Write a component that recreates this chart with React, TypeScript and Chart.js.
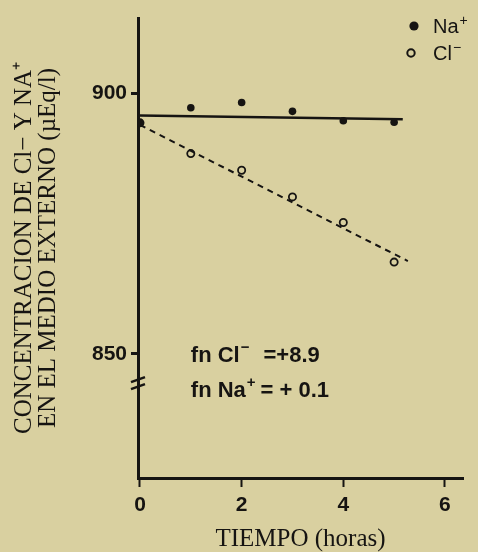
import { useEffect, useRef } from "react";
import { Chart, registerables } from "chart.js";

Chart.register(...registerables);

// ---- data ----
const hours = [0, 1, 2, 3, 4, 5];
const naValues = [894.3, 897.2, 898.2, 896.5, 894.7, 894.4];
const clValues = [894.3, 888.4, 885.2, 880.1, 875.2, 867.6];
const naFitX = [0, 5.17];
const naFitY = [895.7, 895.0];
const clFitX = [0, 5.27];
const clFitY = [893.9, 867.8];
const xTickValues = [0, 2, 4, 6];
const yTickValues = [850, 900];
const xRange = [-0.039, 6.355];
const yRange = [826.2, 914.4];
const breakValue = 844.4;
const yTitleLines = ["CONCENTRACION DE Cl\u2212 Y NA\u207A", "EN EL MEDIO EXTERNO (\u00B5Eq/l)"];
const xTitleText = "TIEMPO (horas)";
const legendBase = ["Na", "Cl"];
const legendSup = ["+", "\u2212"];
const noteBase = ["fn Cl", "fn Na"];
const noteSup = ["\u2212", "+"];
const noteRest = ["=+8.9", "= + 0.1"];
const notePosX = [1.0, 1.0];
const notePosY = [848.5, 841.8];

const INK = "#161412";
const PAPER = "#d9d0a0";
const SANS = "'Liberation Sans', Arial, sans-serif";
const SERIF = "'Liberation Serif', 'Times New Roman', serif";

function drawSup(
  ctx: CanvasRenderingContext2D,
  base: string,
  sup: string,
  x: number,
  y: number,
  size: number,
  weight: string
) {
  ctx.font = `${weight} ${size}px ${SANS}`;
  ctx.fillText(base, x, y);
  const w = ctx.measureText(base).width;
  ctx.font = `${weight} ${Math.round(size * 0.7)}px ${SANS}`;
  ctx.fillText(sup, x + w + 1, y - size * 0.42);
  return x + w + 1 + ctx.measureText(sup).width;
}

const decor = {
  id: "decor",
  afterDraw(chart: any) {
    const ctx: CanvasRenderingContext2D = chart.ctx;
    const xs = chart.scales.x;
    const ys = chart.scales.y;
    ctx.save();
    ctx.fillStyle = INK;
    ctx.strokeStyle = INK;

    // axis break mark
    const bx = xs.left;
    const by = ys.getPixelForValue(breakValue);
    ctx.lineWidth = 2.5;
    [-3.5, 3.5].forEach((d) => {
      ctx.beginPath();
      ctx.moveTo(bx - 7, by + d + 2.5);
      ctx.lineTo(bx + 7, by + d - 2.5);
      ctx.stroke();
    });

    // annotations
    ctx.textBaseline = "alphabetic";
    ctx.textAlign = "left";
    noteBase.forEach((b, i) => {
      const px = xs.getPixelForValue(notePosX[i]);
      const py = ys.getPixelForValue(notePosY[i]);
      const end = drawSup(ctx, b, noteSup[i], px, py, 22, "bold");
      ctx.font = `bold 22px ${SANS}`;
      ctx.fillText(noteRest[i], end + (i === 0 ? 14 : 5), py);
    });

    // legend
    const right = chart.chartArea.right;
    const rows = [26, 53];
    legendBase.forEach((b, i) => {
      const cy = rows[i];
      ctx.beginPath();
      if (i === 0) {
        ctx.arc(right - 49, cy, 4.6, 0, Math.PI * 2);
        ctx.fill();
      } else {
        ctx.lineWidth = 2;
        ctx.arc(right - 52, cy, 3.7, 0, Math.PI * 2);
        ctx.stroke();
      }
      drawSup(ctx, b, legendSup[i], right - 30, cy + 7, 20, "normal");
    });
    ctx.restore();
  },
};

export default function App() {
  const ref = useRef<HTMLCanvasElement | null>(null);

  useEffect(() => {
    if (!ref.current) return;
    const naPts = hours.map((h, i) => ({ x: h, y: naValues[i] }));
    const clPts = hours.map((h, i) => ({ x: h, y: clValues[i] }));
    const naFit = naFitX.map((x, i) => ({ x, y: naFitY[i] }));
    const clFit = clFitX.map((x, i) => ({ x, y: clFitY[i] }));

    const chart = new Chart(ref.current, {
      type: "scatter",
      data: {
        datasets: [
          {
            label: "Na fit",
            data: naFit,
            showLine: true,
            borderColor: INK,
            borderWidth: 2.5,
            pointRadius: 0,
          },
          {
            label: "Cl fit",
            data: clFit,
            showLine: true,
            borderColor: INK,
            borderWidth: 2,
            borderDash: [6, 5],
            pointRadius: 0,
          },
          {
            label: "Na+",
            data: naPts,
            pointRadius: 3.8,
            pointBackgroundColor: INK,
            pointBorderColor: INK,
            pointBorderWidth: 0,
          },
          {
            label: "Cl-",
            data: clPts,
            pointRadius: 3.6,
            pointBackgroundColor: PAPER,
            pointBorderColor: INK,
            pointBorderWidth: 1.8,
          },
        ],
      },
      options: {
        animation: false,
        responsive: true,
        maintainAspectRatio: false,
        layout: { padding: { left: 0, right: 15, top: 18, bottom: 0 } },
        plugins: { legend: { display: false }, tooltip: { enabled: false } },
        scales: {
          x: {
            type: "linear",
            min: xRange[0],
            max: xRange[1],
            afterBuildTicks: (s: any) => {
              s.ticks = xTickValues.map((v) => ({ value: v }));
            },
            afterFit: (s: any) => {
              s.height = 74;
            },
            grid: {
              drawOnChartArea: false,
              drawTicks: true,
              tickLength: 9,
              tickWidth: 2,
              tickColor: INK,
            },
            border: { display: true, color: INK, width: 3 },
            ticks: {
              color: INK,
              padding: 6,
              font: { family: SANS, size: 21, weight: "bold" },
              callback: (v: any) => String(v),
            },
            title: {
              display: true,
              text: xTitleText,
              color: INK,
              font: { family: SERIF, size: 25, lineHeight: 1 },
              padding: { top: 0, bottom: 0 },
            },
          },
          y: {
            type: "linear",
            min: yRange[0],
            max: yRange[1],
            afterBuildTicks: (s: any) => {
              s.ticks = yTickValues.map((v) => ({ value: v }));
            },
            afterFit: (s: any) => {
              s.width = 138;
            },
            grid: {
              drawOnChartArea: false,
              drawTicks: true,
              tickLength: 7,
              tickWidth: 3,
              tickColor: INK,
            },
            border: { display: true, color: INK, width: 3 },
            ticks: {
              color: INK,
              padding: 4,
              font: { family: SANS, size: 21, weight: "bold" },
              callback: (v: any) => String(v),
            },
            title: {
              display: true,
              text: yTitleLines,
              color: INK,
              font: { family: SERIF, size: 25, lineHeight: 0.95 },
              padding: { top: 13, bottom: 0 },
            },
          },
        },
      },
      plugins: [decor],
    });
    return () => chart.destroy();
  }, []);

  return (
    <div
      style={{
        position: "fixed",
        left: 0,
        top: 0,
        width: 478,
        height: 552,
        background: PAPER,
      }}
    >
      <canvas ref={ref} />
    </div>
  );
}
